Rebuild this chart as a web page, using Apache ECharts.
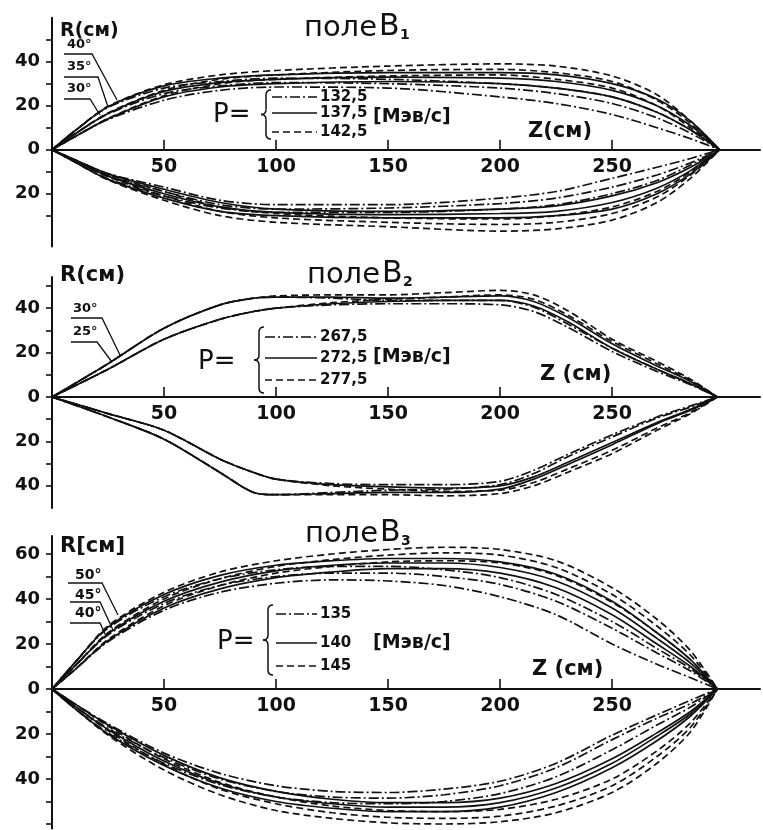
<!DOCTYPE html>
<html>
<head>
<meta charset="utf-8">
<script src="https://cdn.jsdelivr.net/npm/echarts@6/dist/echarts.min.js"></script>
<style>
html,body{margin:0;padding:0;background:#fff;}
#c{width:763px;height:830px;}
</style>
</head>
<body>
<div id="c"></div>
<script>
// ---------- DATA ----------
// Field B1 : momenta 132.5 (dash-dot), 137.5 (solid), 142.5 (dashed); angles 30/35/40 deg
const zB1 = [0, 10, 25, 50, 75, 100, 150, 200, 225, 250, 270, 285, 298];
const b1U_s40 = [0, 8.4, 19.5, 29, 32.5, 34, 35, 35, 34, 30, 23, 13, 0];
const b1U_s35 = [0, 7, 16.5, 26.5, 30.5, 32, 33, 32.5, 31, 27, 20, 11, 0];
const b1U_s30 = [0, 5.8, 14, 24, 28.5, 30, 31, 30, 28, 24, 17, 9, 0];
const b1U_d40 = [0, 8.4, 19.7, 29.5, 34, 36, 38, 39, 38, 33.5, 25, 13, 0];
const b1U_d35 = [0, 7, 16.7, 27, 32, 34, 36, 36.5, 35, 31, 22.5, 12, 0];
const b1U_d30 = [0, 5.8, 14.2, 24.5, 30, 32, 33.5, 34, 32, 28, 20, 10, 0];
const b1U_c40 = [0, 8.4, 19.2, 28, 31, 32.5, 32, 30, 28, 24, 17, 9, 0];
const b1U_c35 = [0, 7, 16.2, 25.5, 29, 30.5, 30, 28, 25.5, 21, 14.5, 7.5, 0];
const b1U_c30 = [0, 5.8, 13.7, 22.5, 27, 28.5, 28, 24, 21, 16, 10, 5, 0];
const b1L_s40 = [0, -5.5, -13.5, -22, -28, -30, -31, -31, -30, -27, -20, -11, 0];
const b1L_s35 = [0, -5, -12, -20, -26, -28.5, -29.5, -29, -28, -24, -17.5, -9.5, 0];
const b1L_s30 = [0, -4.5, -11, -18, -24, -27, -28, -27, -25.5, -21, -15, -8, 0];
const b1L_d40 = [0, -5.5, -13.7, -23, -30, -33, -35, -37, -36, -32, -24, -13, 0];
const b1L_d35 = [0, -5, -12.3, -21, -28, -31, -33, -34, -33, -29, -21.5, -11.5, 0];
const b1L_d30 = [0, -4.5, -11.3, -19, -26, -29, -31, -31.5, -30, -26, -19, -10, 0];
const b1L_c40 = [0, -5.5, -13.2, -21, -26.5, -28.5, -28.5, -27, -25, -20, -14, -7, 0];
const b1L_c35 = [0, -5, -11.8, -19, -25, -27, -26.5, -24.5, -22, -17, -11.5, -6, 0];
const b1L_c30 = [0, -4.5, -10.8, -17, -23, -25, -25, -22, -19, -13, -8, -4, 0];

// Field B2 : momenta 267.5 (dash-dot), 272.5 (solid), 277.5 (dashed); angles 25/30 deg
const zB2 = [0, 25, 50, 75, 90, 100, 125, 150, 175, 200, 215, 230, 250, 270, 285, 297];
const b2U_s30 = [0, 15, 31, 41.5, 44.5, 45, 45, 44.5, 45, 45.5, 43, 36, 24, 14, 7, 0];
const b2U_d30 = [0, 15, 31, 41.5, 44.5, 45.5, 46, 46, 47, 48, 46, 39, 26, 16, 8, 0];
const b2U_c30 = [0, 15, 31, 41.5, 44.5, 45, 44.5, 43.5, 43.5, 43.5, 40.5, 33, 22, 12.5, 6, 0];
const b2U_s25 = [0, 12.5, 26, 35, 38.5, 40, 42, 43, 43.5, 43.5, 41, 34, 22, 12.5, 6, 0];
const b2U_d25 = [0, 12.5, 26, 35, 38.5, 40, 42.5, 44, 45, 46, 44, 37, 25, 15, 7.5, 0];
const b2U_c25 = [0, 12.5, 26, 35, 38.5, 40, 41.5, 42, 42, 41.5, 38.5, 31.5, 20.5, 11.5, 5.5, 0];
const b2L_s30 = [0, -9, -19, -34, -43, -44, -43.5, -43, -43, -41.5, -37, -30.5, -21.5, -12, -6, 0];
const b2L_d30 = [0, -9, -19, -34, -43, -44, -44, -44, -44.5, -43.5, -40, -34, -25.5, -15, -7.5, 0];
const b2L_c30 = [0, -9, -19, -34, -43, -44, -43, -42, -41.5, -39.5, -34.5, -27, -18, -9.5, -4.5, 0];
const b2L_s25 = [0, -7.5, -15, -28, -34, -37, -39.5, -40.5, -41, -40, -36, -29.5, -20.5, -11.5, -5.5, 0];
const b2L_d25 = [0, -7.5, -15, -28, -34, -37, -40, -41.5, -42.5, -42, -38.5, -32.5, -24, -14, -7, 0];
const b2L_c25 = [0, -7.5, -15, -28, -34, -37, -39, -39.5, -39.5, -38, -33, -26, -17, -9, -4, 0];

// Field B3 : momenta 135 (dash-dot), 140 (solid), 145 (dashed); angles 40/45/50 deg
const zB3 = [0, 10, 25, 50, 75, 100, 125, 150, 175, 200, 225, 250, 270, 285, 297];
const b3U_s50 = [0, 11.5, 27.5, 42, 50.5, 55, 57, 58, 58, 56.5, 51, 39, 25, 13, 0];
const b3U_s45 = [0, 10, 24.5, 39, 47.5, 52.5, 55, 56, 56, 54, 48, 36, 22.5, 11.5, 0];
const b3U_s40 = [0, 8.4, 21.5, 36, 44.5, 49.5, 52, 53.5, 53.5, 51.5, 45, 33, 20, 10, 0];
const b3U_d50 = [0, 11.5, 28, 43, 52, 57, 60, 62, 63, 62, 57, 45, 31, 17, 0];
const b3U_d45 = [0, 10, 25, 40, 49, 54.5, 57.5, 59.5, 60.5, 59.5, 54, 42, 28, 15, 0];
const b3U_d40 = [0, 8.4, 22, 37, 46, 51.5, 54.5, 56.5, 57, 56, 50.5, 38.5, 25, 13, 0];
const b3U_c50 = [0, 11.5, 27, 41, 49, 53, 54.5, 54.5, 53, 49.5, 42, 30, 18, 9, 0];
const b3U_c45 = [0, 10, 24, 38, 46, 50, 51.5, 51.5, 50, 46.5, 39, 27, 16, 8, 0];
const b3U_c40 = [0, 8.4, 21, 35, 43, 47, 48.5, 48, 46, 41, 33, 20, 11, 5, 0];
const b3L_s50 = [0, -8.5, -20, -34, -44, -50, -53, -54.5, -54.5, -52.5, -46, -35, -23, -12, 0];
const b3L_s45 = [0, -7.5, -18, -32, -42, -48, -51, -52.5, -52.5, -50.5, -44, -33, -21, -11, 0];
const b3L_s40 = [0, -6.5, -16, -29.5, -39.5, -45.5, -49, -50.5, -50.5, -48.5, -42, -31, -19.5, -10, 0];
const b3L_d50 = [0, -8.5, -20.5, -36, -47, -54, -57.5, -59.5, -60, -59, -55, -46, -33, -19, 0];
const b3L_d45 = [0, -7.5, -18.5, -33.5, -44.5, -51, -55, -57, -57.5, -56.5, -52, -43, -30, -17, 0];
const b3L_d40 = [0, -6.5, -16.5, -31, -41.5, -48, -52, -54, -54.5, -53.5, -49, -40, -27.5, -15, 0];
const b3L_c50 = [0, -8.5, -19.5, -33, -42.5, -48, -50.5, -51, -50, -46.5, -39, -27, -16, -8, 0];
const b3L_c45 = [0, -7.5, -17.5, -30.5, -40, -45.5, -48, -48.5, -47, -43, -35, -22.5, -13, -6.5, 0];
const b3L_c40 = [0, -6.5, -15.5, -28.5, -37.5, -43, -45.5, -46, -44.5, -41, -33, -20.5, -11.5, -5, 0];

// ticks / labels
const xTickVals = [50, 100, 150, 200, 250];
const y1Labels = [-20, 0, 20, 40];
const y1Ticks = [-30, -20, -10, 0, 10, 20, 30, 40, 50];
const y2Labels = [-40, -20, 0, 20, 40];
const y2Ticks = [-40, -30, -20, -10, 0, 10, 20, 30, 40, 50];
const y3Labels = [-40, -20, 0, 20, 40, 60];
const y3Ticks = [-60, -50, -40, -30, -20, -10, 0, 10, 20, 30, 40, 50, 60];
const p1Momenta = ['132,5', '137,5', '142,5'];
const p2Momenta = ['267,5', '272,5', '277,5'];
const p3Momenta = ['135', '140', '145'];
const p1Angles = ['40°', '35°', '30°'];
const p2Angles = ['30°', '25°'];
const p3Angles = ['50°', '45°', '40°'];

// ---------- CHART ----------
const FONT = '"DejaVu Sans", "Liberation Sans", sans-serif';
const INK = '#111';
const SOLID = 'solid', DASH = [7, 4], DASHDOT = [10, 3, 2, 3];

function mk(z, r, kind, g) {
  return {
    type: 'line', xAxisIndex: g, yAxisIndex: g,
    data: z.map((v, i) => [v, r[i]]),
    symbol: 'none', showSymbol: false, smooth: 0.3,
    lineStyle: { color: INK, width: 1.7, type: kind },
    silent: true, animation: false, z: 2
  };
}

const series = [
  mk(zB1, b1U_s40, SOLID, 0), mk(zB1, b1U_s35, SOLID, 0), mk(zB1, b1U_s30, SOLID, 0),
  mk(zB1, b1U_d40, DASH, 0), mk(zB1, b1U_d35, DASH, 0), mk(zB1, b1U_d30, DASH, 0),
  mk(zB1, b1U_c40, DASHDOT, 0), mk(zB1, b1U_c35, DASHDOT, 0), mk(zB1, b1U_c30, DASHDOT, 0),
  mk(zB1, b1L_s40, SOLID, 0), mk(zB1, b1L_s35, SOLID, 0), mk(zB1, b1L_s30, SOLID, 0),
  mk(zB1, b1L_d40, DASH, 0), mk(zB1, b1L_d35, DASH, 0), mk(zB1, b1L_d30, DASH, 0),
  mk(zB1, b1L_c40, DASHDOT, 0), mk(zB1, b1L_c35, DASHDOT, 0), mk(zB1, b1L_c30, DASHDOT, 0),

  mk(zB2, b2U_s30, SOLID, 1), mk(zB2, b2U_d30, DASH, 1), mk(zB2, b2U_c30, DASHDOT, 1),
  mk(zB2, b2U_s25, SOLID, 1), mk(zB2, b2U_d25, DASH, 1), mk(zB2, b2U_c25, DASHDOT, 1),
  mk(zB2, b2L_s30, SOLID, 1), mk(zB2, b2L_d30, DASH, 1), mk(zB2, b2L_c30, DASHDOT, 1),
  mk(zB2, b2L_s25, SOLID, 1), mk(zB2, b2L_d25, DASH, 1), mk(zB2, b2L_c25, DASHDOT, 1),

  mk(zB3, b3U_s50, SOLID, 2), mk(zB3, b3U_s45, SOLID, 2), mk(zB3, b3U_s40, SOLID, 2),
  mk(zB3, b3U_d50, DASH, 2), mk(zB3, b3U_d45, DASH, 2), mk(zB3, b3U_d40, DASH, 2),
  mk(zB3, b3U_c50, DASHDOT, 2), mk(zB3, b3U_c45, DASHDOT, 2), mk(zB3, b3U_c40, DASHDOT, 2),
  mk(zB3, b3L_s50, SOLID, 2), mk(zB3, b3L_s45, SOLID, 2), mk(zB3, b3L_s40, SOLID, 2),
  mk(zB3, b3L_d50, DASH, 2), mk(zB3, b3L_d45, DASH, 2), mk(zB3, b3L_d40, DASH, 2),
  mk(zB3, b3L_c50, DASHDOT, 2), mk(zB3, b3L_c45, DASHDOT, 2), mk(zB3, b3L_c40, DASHDOT, 2)
];

const grids = [
  { left: 52, top: 17.7, width: 708, height: 228.8 },
  { left: 52, top: 277.1, width: 708, height: 230.9 },
  { left: 52, top: 536, width: 708, height: 292.5 }
];
const yRanges = [[-44, 60], [-50, 54], [-62, 68]];

function xAx(g) {
  const h = grids[g].height, mn = yRanges[g][0], mx = yRanges[g][1];
  const off = -(0 - mn) * h / (mx - mn);   // put the Z axis on R = 0
  return {
    gridIndex: g, type: 'value', min: 0, max: 316, position: 'bottom', offset: off,
    axisLine: { show: true, onZero: false, lineStyle: { color: INK, width: 2 } },
    axisTick: { show: true, inside: true, length: 10, customValues: xTickVals, lineStyle: { color: INK, width: 1.6 } },
    axisLabel: { show: true, customValues: xTickVals, fontSize: 19, fontWeight: 'bold', fontFamily: FONT, color: INK, margin: 8 },
    splitLine: { show: false }
  };
}
function yAx(g, labels, ticks) {
  return {
    gridIndex: g, type: 'value', min: yRanges[g][0], max: yRanges[g][1],
    axisLine: { show: true, onZero: false, lineStyle: { color: INK, width: 2 } },
    axisTick: { show: true, length: 6, customValues: ticks, lineStyle: { color: INK, width: 1.6 } },
    axisLabel: { show: true, customValues: labels, formatter: v => String(Math.abs(v)), fontSize: 18, fontWeight: 'bold', fontFamily: FONT, color: INK, margin: 12 },
    splitLine: { show: false }
  };
}

// ---------- annotations ----------
const G = [];
function txt(x, y, text, size, align, weight) {
  G.push({
    type: 'text', x: x, y: y, z: 100, silent: true,
    style: { text: text, fontSize: size, fontWeight: weight || 'bold', fontFamily: FONT, fill: INK,
             align: align || 'left', verticalAlign: 'middle', textAlign: align || 'left', textVerticalAlign: 'middle' }
  });
}
function seg(x1, y1, x2, y2, dash, w) {
  G.push({ type: 'line', z: 100, silent: true, shape: { x1, y1, x2, y2 },
           style: { stroke: INK, lineWidth: w || 1.5, lineDash: dash || null } });
}
function poly(pts, w) {
  G.push({ type: 'polyline', z: 100, silent: true, shape: { points: pts },
           style: { stroke: INK, lineWidth: w || 1.3, fill: null } });
}
function bez(x1, y1, cx, cy, x2, y2) {
  G.push({ type: 'bezierCurve', z: 100, silent: true, shape: { x1, y1, x2, y2, cpx1: cx, cpy1: cy },
           style: { stroke: INK, lineWidth: 1.5, fill: null } });
}
function brace(x, top, bot) {
  const mid = (top + bot) / 2;
  bez(x + 5, top, x, top, x, top + 5);
  seg(x, top + 5, x, mid - 5);
  bez(x, mid - 5, x, mid, x - 5, mid);
  bez(x - 5, mid, x, mid, x, mid + 5);
  seg(x, mid + 5, x, bot - 5);
  bez(x, bot - 5, x, bot, x + 5, bot);
}
function titleB(xRight, y, sub) {
  txt(xRight, y + 1, 'поле', 29, 'right', 'normal');
  txt(xRight + 2, y, 'B', 30, 'left', 'normal');
  txt(xRight + 23, y + 8, sub, 14, 'left', 'bold');
}
function legend(pX, pY, braceX, top, bot, lx1, lx2, ys, nums) {
  txt(pX, pY, 'P=', 26, 'left', 'normal');
  brace(braceX, top, bot);
  seg(lx1, ys[0], lx2, ys[0], DASHDOT, 1.6);
  seg(lx1, ys[1], lx2, ys[1], null, 1.6);
  seg(lx1, ys[2], lx2, ys[2], DASH, 1.6);
  for (let i = 0; i < 3; i++) txt(lx2 + 3, ys[i], nums[i], 15, 'left');
}

// panel 1
titleB(377, 27, '1');
txt(60, 31, 'R(см)', 19, 'left');
txt(528, 132, 'Z(см)', 21, 'left');
legend(213, 115, 266, 90, 139, 272, 317, [97, 113, 132], p1Momenta);
txt(373, 117, '[Мэв/с]', 19, 'left');
txt(67, 45, p1Angles[0], 13, 'left');
txt(67, 67, p1Angles[1], 13, 'left');
txt(67, 89, p1Angles[2], 13, 'left');
poly([[64, 54], [92, 54], [117, 100]]);
poly([[64, 77], [98, 77], [108, 107]]);
poly([[64, 99], [90, 99], [100, 115]]);

// panel 2
titleB(380, 274, '2');
txt(60, 276, 'R(см)', 21, 'left');
txt(540, 375, 'Z (см)', 21, 'left');
legend(198, 362, 259, 327, 393, 265, 317, [337, 358, 380], p2Momenta);
txt(373, 357, '[Мэв/с]', 19, 'left');
txt(73, 309, p2Angles[0], 13, 'left');
txt(73, 332, p2Angles[1], 13, 'left');
poly([[71, 318], [102, 318], [120, 355]]);
poly([[71, 342], [97, 342], [112, 362]]);

// panel 3
titleB(378, 533, '3');
txt(60, 547, 'R[см]', 21, 'left');
txt(532, 670, 'Z (см)', 21, 'left');
legend(217, 642, 268, 605, 675, 276, 317, [614, 643, 666], p3Momenta);
txt(373, 643, '[Мэв/с]', 19, 'left');
txt(75, 575, p3Angles[0], 14, 'left');
txt(75, 595, p3Angles[1], 14, 'left');
txt(75, 613, p3Angles[2], 14, 'left');
poly([[68, 583], [102, 583], [118, 615]]);
poly([[70, 602], [100, 602], [113, 630]]);
poly([[70, 623], [100, 623], [106, 636]]);

const chart = echarts.init(document.getElementById('c'), null, { renderer: 'canvas', width: 763, height: 830 });
chart.setOption({
  backgroundColor: '#ffffff',
  animation: false,
  grid: grids.map(g => Object.assign({ containLabel: false, outerBoundsMode: 'none' }, g)),
  xAxis: [xAx(0), xAx(1), xAx(2)],
  yAxis: [
    yAx(0, y1Labels, y1Ticks),
    yAx(1, y2Labels, y2Ticks),
    yAx(2, y3Labels, y3Ticks)
  ],
  series: series,
  graphic: G
});
</script>
</body>
</html>
